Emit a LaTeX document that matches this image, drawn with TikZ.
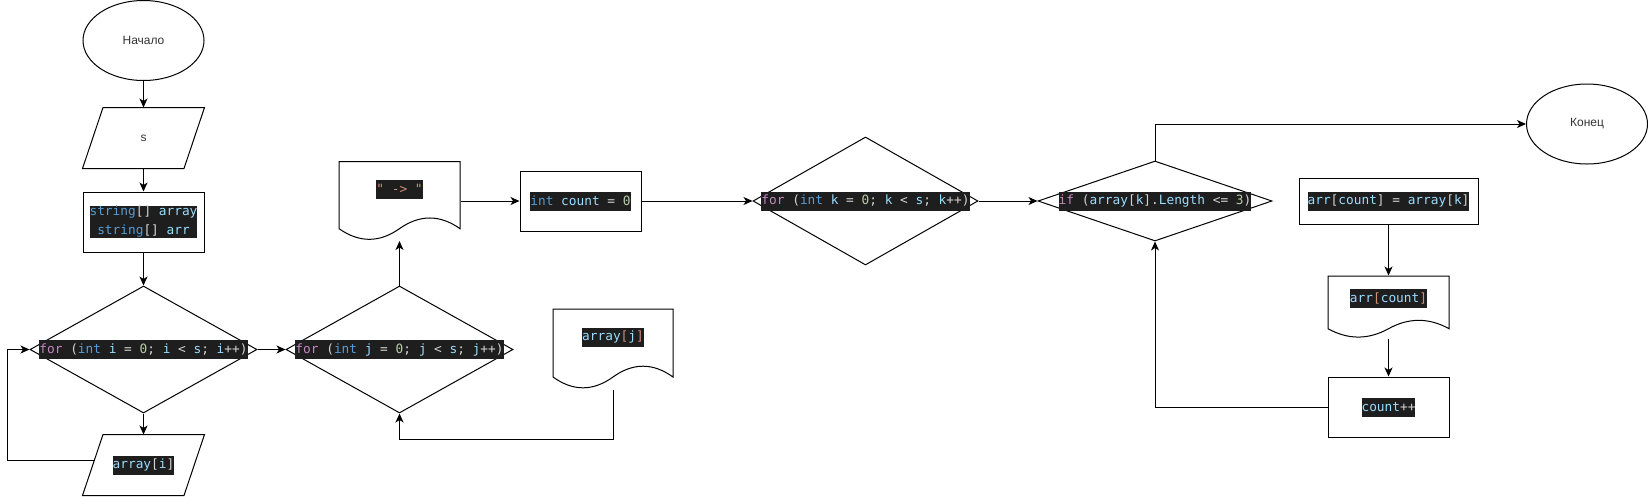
\documentclass[tikz,border=0pt]{standalone}
\usepackage{fontspec}
\setmainfont{Liberation Sans}
\newfontfamily\codefont{DejaVu Sans Mono}
\usetikzlibrary{shapes.geometric,arrows.meta,calc}
\definecolor{cbg}{HTML}{1E1E1E}
\definecolor{ckw}{HTML}{C586C0}
\definecolor{cty}{HTML}{569CD6}
\definecolor{cvar}{HTML}{9CDCFE}
\definecolor{cnum}{HTML}{B5CEA8}
\definecolor{cstr}{HTML}{CE9178}
\definecolor{cpun}{HTML}{D4D4D4}
\definecolor{lbl}{HTML}{333333}
\newcommand\CKw[1]{\textcolor{ckw}{#1}}
\newcommand\CTy[1]{\textcolor{cty}{#1}}
\newcommand\CVa[1]{\textcolor{cvar}{#1}}
\newcommand\CNu[1]{\textcolor{cnum}{#1}}
\newcommand\CSt[1]{\textcolor{cstr}{#1}}
% document shape: name, cx, cy, w, h
\newcommand\docshape[5]{%
 \node[hold, minimum width=#4, minimum height=#5] (#1) at (#2,#3) {};
 \draw ({#2-#4/2},{#3-#5/2}) -- ({#2+#4/2},{#3-#5/2}) -- ({#2+#4/2},{#3+#5/2-0.15*#5})
   .. controls ({#2+#4/2-#4/6},{#3+#5/2-0.33*#5}) and ({#2+#4/6},{#3+#5/2-0.33*#5}) .. ({#2},{#3+#5/2-0.15*#5})
   .. controls ({#2-#4/6},{#3+#5/2+0.03*#5}) and ({#2-#4/2+#4/6},{#3+#5/2+0.03*#5}) .. ({#2-#4/2},{#3+#5/2-0.15*#5}) -- cycle;
}
% parallelogram outline around a hold node
\newcommand\paraout[1]{%
 \draw ($(#1.north west)+(20.5,0)$) -- (#1.north east) -- ($(#1.south east)+(-20.5,0)$) -- (#1.south west) -- cycle;
}
\begin{document}
\begin{tikzpicture}[x=1pt,y=-1pt, line width=1pt,
  conn/.style={draw, -{Stealth[length=9pt,width=8pt,inset=2.5pt]}},
  term/.style={ellipse, draw, minimum width=121, minimum height=80, inner sep=0, text=lbl, font=\fontsize{12}{14}\selectfont},
  lab/.style={inner sep=0, text=lbl, font=\fontsize{12}{14}\selectfont},
  dia/.style={diamond, draw, inner sep=0},
  proc/.style={rectangle, draw, inner sep=0},
  hold/.style={rectangle, inner sep=0},
  code/.style={fill=cbg, text=cpun, inner xsep=0, inner ysep=0, minimum height=19, font=\codefont\fontsize{12.8}{19}\selectfont\frenchspacing},
]
\useasboundingbox (0,0) rectangle (1648,496);

% column 1
\node[term] (start) at (143.5,40.5) {Начало};
\node[hold, minimum width=121, minimum height=60] (ins) at (143.5,138) {};
\paraout{ins}
\node[lab] (inst) at (ins) {s};
\node[proc, minimum width=121, minimum height=60] (r1) at (143.5,222) {};
\node[code, align=center, inner ysep=0.5] (r1t) at (r1) {\CTy{string}[] \CVa{array}\\\CTy{string}[] \CVa{arr}};
\node[dia, minimum width=227, minimum height=127] (di) at (143.5,349.5) {};
\node[code] (dit) at (di) {\CKw{for} (\CTy{int} \CVa{i} = \CNu{0}; \CVa{i} < \CVa{s}; \CVa{i}++)};
\node[hold, minimum width=121, minimum height=60] (pai) at (143.5,465) {};
\paraout{pai}
\node[code] (pait) at (pai) {\CVa{array}[\CVa{i}]};

% column 2
\node[dia, minimum width=227, minimum height=127] (dj) at (399.5,349.5) {};
\node[code] (djt) at (dj) {\CKw{for} (\CTy{int} \CVa{j} = \CNu{0}; \CVa{j} < \CVa{s}; \CVa{j}++)};
\docshape{doc1}{399.5}{201}{121}{79}
\node[code] (doc1t) at (399.5,189.2) {\CSt{" -> "}};
\docshape{docj}{613}{349}{120}{80}
\node[code] (docjt) at (613,337) {\CVa{array}\CSt{[}\CVa{j}\CSt{]}};
\node[proc, minimum width=121, minimum height=60] (r2) at (580.5,201) {};
\node[code] (r2t) at (r2) {\CTy{int} \CVa{count} = \CNu{0}};

% column 3
\node[dia, minimum width=225, minimum height=128] (dk) at (865.5,201) {};
\node[code] (dkt) at (dk) {\CKw{for} (\CTy{int} \CVa{k} = \CNu{0}; \CVa{k} < \CVa{s}; \CVa{k}++)};
\node[dia, minimum width=234, minimum height=80] (dif) at (1155,201) {};
\node[code] (dift) at (dif) {\CKw{if} (\CVa{array}[\CVa{k}].\CVa{Length} <= \CNu{3})};
\node[term] (end) at (1587,124) {Конец};
\node[proc, minimum width=179, minimum height=46] (r3) at (1388.5,201) {};
\node[code] (r3t) at (r3) {\CVa{arr}[\CVa{count}] = \CVa{array}[\CVa{k}]};
\docshape{docc}{1388.5}{307}{121}{62}
\node[code] (docct) at (1388.5,298) {\CVa{arr}\CSt{[}\CVa{count}\CSt{]}};
\node[proc, minimum width=121, minimum height=60] (r4) at (1388.5,407) {};
\node[code] (r4t) at (r4) {\CVa{count}++};

% helper coordinates
\coordinate (pail) at (94.7,460);
\coordinate (loopi) at (7,460);
\coordinate (jb) at (613,439);

% connectors
\draw[conn] (start) -- (ins);
\draw[conn] (ins) -- (r1);
\draw[conn] (r1) -- (di.north);
\draw[conn] (di.south) -- (pai.north);
\draw[conn] (pail) -- (loopi) |- (di.west);
\draw[conn] (di.east) -- (dj.west);
\draw[conn] (dj.north) -- (doc1.south);
\draw[conn] (docj.south) -- (jb) -| (dj.south);
\draw[conn] (doc1.east) -- (r2.west);
\draw[conn] (r2.east) -- (dk.west);
\draw[conn] (dk.east) -- (dif.west);
\draw[conn] (dif.north) |- (end.west);
\draw[conn] (r3.south) -- (docc.north);
\draw[conn] (docc.south) -- (r4.north);
\draw[conn] (r4.west) -| (dif.south);
\end{tikzpicture}
\end{document}
